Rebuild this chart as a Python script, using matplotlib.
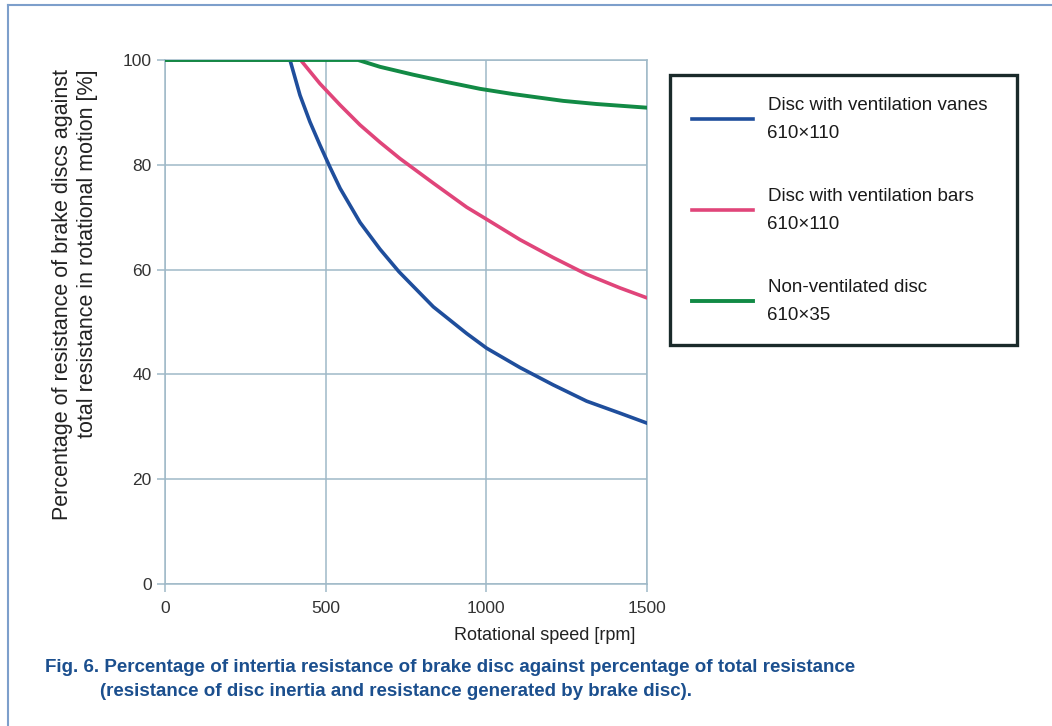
import matplotlib
matplotlib.use("Agg")
import matplotlib.pyplot as plt
from matplotlib.lines import Line2D

plt.rcParams['font.family'] = ['Liberation Sans', 'DejaVu Sans']

# rotational speed [rpm] and share of disc resistance [%]
rpm_vanes = [0, 389, 420, 451, 482, 513, 545, 607, 669, 728, 835, 939, 1001, 1105, 1208, 1312, 1416, 1500]
res_vanes = [100, 100, 93.3, 88.2, 83.8, 79.6, 75.5, 69.0, 63.9, 59.6, 52.9, 47.8, 45.0, 41.3, 38.0, 34.9, 32.6, 30.7]

rpm_bars = [0, 422, 482, 545, 607, 669, 731, 835, 939, 1001, 1105, 1208, 1312, 1416, 1500]
res_bars = [100, 100, 95.5, 91.4, 87.6, 84.3, 81.2, 76.5, 71.9, 69.6, 65.7, 62.3, 59.1, 56.5, 54.6]

rpm_plain = [0, 601, 669, 772, 877, 980, 1083, 1239, 1343, 1500]
res_plain = [100, 100, 98.7, 97.2, 95.8, 94.5, 93.5, 92.2, 91.6, 90.9]

labels = ["Disc with ventilation vanes\n610×110",
          "Disc with ventilation bars\n610×110",
          "Non-ventilated disc\n610×35"]
colors = ["#1f4e9c", "#e0457a", "#128a45"]

x_ticks = [0, 500, 1000, 1500]
y_ticks = [0, 20, 40, 60, 80, 100]

grid_c = "#9fb9c8"
text_c = "#333333"

fig = plt.figure(figsize=(10.52, 7.26), dpi=100)
ax = fig.add_axes([165 / 1052, 1 - 584 / 726, 482 / 1052, 524 / 726])

ax.plot(rpm_vanes, res_vanes, color=colors[0], lw=2.6, label=labels[0], zorder=3)
ax.plot(rpm_bars, res_bars, color=colors[1], lw=2.6, label=labels[1], zorder=3)
ax.plot(rpm_plain, res_plain, color=colors[2], lw=2.8, label=labels[2], zorder=3)

ax.set_xlim(0, 1500)
ax.set_ylim(0, 100)
ax.set_xticks(x_ticks)
ax.set_yticks(y_ticks)
ax.grid(True, color=grid_c, lw=1.1)
ax.set_axisbelow(True)
for sp in ax.spines.values():
    sp.set_color(grid_c)
    sp.set_linewidth(1.1)
ax.tick_params(axis='both', colors=grid_c, labelcolor=text_c, labelsize=12.5,
               length=6, width=1.1, direction='out')
ax.tick_params(axis='x', pad=6)

ax.set_xlabel("Rotational speed [rpm]", fontsize=13, color="#222222")
ax.xaxis.set_label_coords(0.788, -0.083)

fig.text(75 / 1052, 1 - 295 / 726,
         "Percentage of resistance of brake discs against\n"
         "total resistance in rotational motion [%]",
         rotation=90, ha='center', va='center', multialignment='right',
         fontsize=15.5, color="#222222", linespacing=1.2)

leg = ax.legend(loc='upper left', bbox_to_anchor=(670 / 1052, 1 - 346 / 726, 347 / 1052, 271 / 726),
                bbox_transform=fig.transFigure, mode='expand', fontsize=13.5, borderaxespad=0,
                handlelength=3.3, handletextpad=0.75, labelspacing=2.45, borderpad=1.15,
                fancybox=False, framealpha=1, edgecolor="#1a2a2a")
leg.get_frame().set_linewidth(2.4)
for t in leg.get_texts():
    t.set_color("#1a1a1a")
    t.set_linespacing(1.85)

# caption under the chart
cap_c = "#1b4f8e"
fig.text(45 / 1052, 1 - 667 / 726,
         "Fig. 6. Percentage of intertia resistance of brake disc against percentage of total resistance",
         fontsize=13.5, fontweight='bold', color=cap_c, va='center')
fig.text(100 / 1052, 1 - 692 / 726,
         "(resistance of disc inertia and resistance generated by brake disc).",
         fontsize=13.5, fontweight='bold', color=cap_c, va='center')

# page frame lines
frame_c = "#7d9fcb"
fig.add_artist(Line2D([8 / 1052, 8 / 1052], [0, 1 - 5 / 726], color=frame_c, lw=1.5))
fig.add_artist(Line2D([8 / 1052, 1], [1 - 5 / 726, 1 - 5 / 726], color=frame_c, lw=1.5))

fig.savefig("out.png", dpi=100)
